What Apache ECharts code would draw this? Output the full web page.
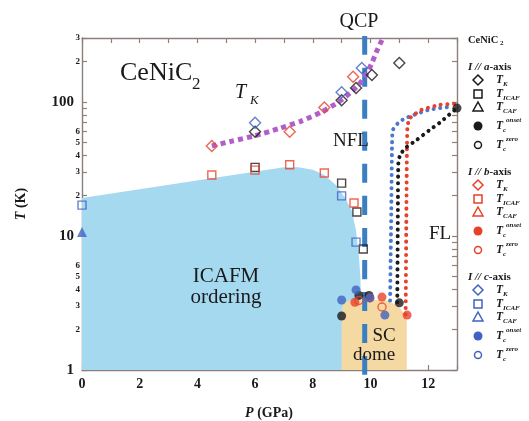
<!DOCTYPE html>
<html><head><meta charset="utf-8">
<script src="https://cdn.jsdelivr.net/npm/echarts@6/dist/echarts.min.js"></script>
<style>html,body{margin:0;padding:0;background:#fff}#c{width:529px;height:421px}</style>
</head><body><div id="c"></div>
<script>
// ---------- data ----------
const xLabelValues = [0, 2, 4, 6, 8, 10, 12];
const yLabelValues = [1, 2, 3, 4, 5, 6, 10, 20, 30, 40, 50, 60, 100, 200, 300];
const yTickValues = [1, 2, 3, 4, 5, 6, 7, 8, 9, 10, 20, 30, 40, 50, 60, 70, 80, 90, 100, 200, 300];

// ICAFM ordering region boundary (P in GPa, T in K)
const icafmP = [0, 0, 7.0, 7.5, 8.0, 8.4, 8.8, 9.1, 9.35, 9.5, 9.6, 9.65, 9.72];
const icafmT = [1, 19.2, 32.5, 32.6, 31.2, 28.5, 24, 19.5, 15.5, 11, 7, 5, 1];
// SC dome boundary
const domeP = [9.0, 9.0, 9.05, 9.12, 9.3, 10.3, 10.6, 10.85, 11.05, 11.2, 11.26, 11.26];
const domeT = [1, 2.85, 3.05, 3.18, 3.33, 3.33, 3.28, 3.1, 2.85, 2.55, 2.3, 1];
// QCP line
const qcpP = [9.8, 9.8];
const qcpT = [311, 0.92];
// T_K guide (purple dotted)
const tkLineP = [4.5, 5.2, 6.0, 6.8, 7.6, 8.3, 8.9, 9.3, 9.6, 9.85, 10.05, 10.2, 10.4];
const tkLineT = [47, 51, 56, 63, 72, 84, 100, 117, 135, 160, 195, 235, 290];
// Tc guides
const tcBlueP = [10.68, 10.72, 10.75, 10.78, 11.0, 11.3, 12.0, 12.75];
const tcBlueT = [3.3, 15, 50, 62, 71, 77, 87, 92];
const tcRedP = [11.22, 11.25, 11.28, 11.35, 11.5, 11.75, 12.4, 12.95];
const tcRedT = [2.6, 20, 65, 75, 80, 87, 95, 97];
const tcBlackP = [10.93, 10.95, 10.97, 11.05, 11.25, 11.6, 12.06, 12.4, 13.0];
const tcBlackT = [3.2, 15, 36, 41, 46, 52, 62, 70, 90];

// markers: a-axis (black), b-axis (red), c-axis (blue)
const aTK_P = [6.0, 9.0, 9.5, 10.05, 11.0];
const aTK_T = [60, 103, 127, 159, 195];
const bTK_P = [4.5, 7.2, 8.4, 9.4];
const bTK_T = [47, 60, 91, 154];
const cTK_P = [6.0, 9.0, 9.7];
const cTK_T = [70, 118, 179];

const aICAF_P = [6.0, 9.0, 9.53, 9.75];
const aICAF_T = [32.5, 24.8, 15.1, 8.0];
const bICAF_P = [4.5, 6.0, 7.2, 8.4, 9.43];
const bICAF_T = [28.5, 31, 34, 29.5, 17.6];
const cICAF_P = [0, 9.0, 9.5];
const cICAF_T = [17, 19.9, 9.0];

const cCAF_P = [0];
const cCAF_T = [10.7];

const aOnset_P = [9.0, 9.6, 9.95, 11.0, 13.0];
const aOnset_T = [2.53, 3.6, 3.6, 3.17, 90];
const bOnset_P = [9.46, 9.98, 10.4, 11.27];
const bOnset_T = [3.2, 3.45, 3.5, 2.57];
const cOnset_P = [9.0, 9.5, 9.98, 10.5];
const cOnset_T = [3.33, 3.96, 3.45, 2.57];

const bZero_P = [9.6, 10.4];
const bZero_T = [3.3, 2.95];

// ---------- styling ----------
const SERIF = '"Liberation Serif", "DejaVu Serif", serif';
const AX = '#8b817c';
const BLACK = '#1a1a1a', RED = '#e8412b', BLUE = '#4063bf';
const pts = (P, T) => P.map((p, i) => [p, T[i]]);

function polySeries(P, T, color, z) {
  return {
    type: 'custom', z, silent: true, clip: true,
    data: [[P[0], T[0]]],
    renderItem: (params, api) => ({
      type: 'polygon',
      shape: { points: P.map((p, i) => api.coord([p, T[i]])) },
      style: { fill: color }
    })
  };
}
function dotLine(P, T, color, width, dash, cap, z) {
  return {
    type: 'line', data: pts(P, T), symbol: 'none', smooth: 0.2, z, silent: true,
    clip: false,
    lineStyle: { color, width, type: dash, cap }
  };
}
function scat(P, T, symbol, size, color, filled, z) {
  return {
    type: 'scatter', data: pts(P, T), symbol, symbolSize: size, z: z || 10, silent: true,
    itemStyle: filled ? { color, borderWidth: 0 } : { color: 'rgba(0,0,0,0)', borderColor: color, borderWidth: 1.4 }
  };
}

// ---------- graphics (text labels + legend) ----------
const g = [];
function txt(x, y, text, size, o) {
  o = o || {};
  g.push({
    type: 'text', x, y, rotation: o.rotation || 0, z: 100,
    style: Object.assign({
      text, fontFamily: SERIF, fontSize: size, fontStyle: o.italic ? 'italic' : 'normal',
      fontWeight: o.bold ? 'bold' : 'normal', fill: o.color || '#1a1a1a',
      align: o.align || 'left', verticalAlign: 'middle'
    }, o.rich ? { rich: o.rich } : {})
  });
}
// in-plot labels
txt(120, 73, 'CeNiC', 26);
txt(192, 85, '2', 17);
txt(235, 93, 'T', 20, { italic: true });
txt(250, 101, 'K', 13, { italic: true });
txt(359, 22, 'QCP', 20, { align: 'center' });
txt(333, 141, 'NFL', 19);
txt(429, 234, 'FL', 19);
txt(226, 276, 'ICAFM', 21, { align: 'center' });
txt(226, 297, 'ordering', 21, { align: 'center' });
txt(384, 336, 'SC', 19, { align: 'center' });
txt(374, 355, 'dome', 19, { align: 'center' });
// axis titles
txt(269, 413, '{i|P} (GPa)', 14, { bold: true, align: 'center',
  rich: { i: { fontStyle: 'italic', fontWeight: 'bold', fontFamily: SERIF, fontSize: 14 } } });
txt(21, 204, '{i|T} (K)', 14, { bold: true, align: 'center', rotation: Math.PI / 2,
  rich: { i: { fontStyle: 'italic', fontWeight: 'bold', fontFamily: SERIF, fontSize: 14 } } });

// legend
txt(468, 40, 'CeNiC', 10.5, { bold: true });
txt(500, 43, '2', 7, { bold: true });
const legendGroups = [['a', 67, BLACK], ['b', 172, RED], ['c', 277, BLUE]];
const legendRowOffsets = [13, 27, 40, 59, 78];
const legendSymbols = ['diamond', 'square', 'triangle', 'dot', 'circle'];
const legendSubs = ['K', 'ICAF', 'CAF', 'c', 'c'];
const legendSups = ['', '', '', 'onset', 'zero'];
function sym(kind, x, y, color) {
  const st = { fill: 'none', stroke: color, lineWidth: 1.5 };
  if (kind === 'diamond') return { type: 'polygon', z: 100, shape: { points: [[x, y - 5], [x + 5, y], [x, y + 5], [x - 5, y]] }, style: st };
  if (kind === 'square') return { type: 'rect', z: 100, shape: { x: x - 4, y: y - 4, width: 8, height: 8 }, style: st };
  if (kind === 'triangle') return { type: 'polygon', z: 100, shape: { points: [[x, y - 5], [x + 5, y + 4], [x - 5, y + 4]] }, style: st };
  if (kind === 'dot') return { type: 'circle', z: 100, shape: { cx: x, cy: y, r: 4.5 }, style: { fill: color } };
  return { type: 'circle', z: 100, shape: { cx: x, cy: y, r: 3.5 }, style: st };
}
legendGroups.forEach(([ax, y0, col]) => {
  txt(468, y0, '{i|I // ' + ax + '}{n|-axis}', 11, { bold: true,
    rich: { i: { fontStyle: 'italic', fontWeight: 'bold', fontFamily: SERIF, fontSize: 11 },
            n: { fontWeight: 'bold', fontFamily: SERIF, fontSize: 11 } } });
  legendRowOffsets.forEach((off, k) => {
    const y = y0 + off;
    g.push(sym(legendSymbols[k], 478, y, col));
    txt(496, y, 'T', 11.5, { italic: true, bold: true });
    txt(503, y + 4, legendSubs[k], 7, { italic: true, bold: true });
    if (legendSups[k]) txt(506, y - 6, legendSups[k], 7, { italic: true, bold: true });
  });
});

// ---------- chart ----------
const chart = echarts.init(document.getElementById('c'), null, { renderer: 'canvas' });
const xBase = {
  type: 'value', min: 0, max: 13, interval: 1,
  axisLine: { show: true, onZero: false, lineStyle: { color: AX, width: 1.4 } },
  axisTick: { show: true, inside: true, length: 5, lineStyle: { color: AX, width: 1.2 } },
  splitLine: { show: false }
};
const yBase = {
  type: 'log', logBase: 10, min: 1, max: 300,
  axisLine: { show: true, onZero: false, lineStyle: { color: AX, width: 1.4 } },
  axisTick: { show: true, inside: true, length: 5, customValues: yTickValues, lineStyle: { color: AX, width: 1.2 } },
  minorTick: { show: false },
  splitLine: { show: false }
};
const option = {
  animation: false,
  backgroundColor: '#fff',
  grid: { left: 82, right: 72, top: 38, bottom: 51, containLabel: false },
  xAxis: [
    Object.assign({}, xBase, { position: 'bottom',
      axisLabel: { show: true, customValues: xLabelValues, margin: 7, color: '#1a1a1a',
        fontFamily: SERIF, fontSize: 14, fontWeight: 'bold' } }),
    Object.assign({}, xBase, { position: 'top', axisLabel: { show: false } })
  ],
  yAxis: [
    Object.assign({}, yBase, { position: 'left',
      axisLabel: { show: true, customValues: yLabelValues, margin: 2, color: '#1a1a1a',
        formatter: (v) => {
          const d = Math.log10(v);
          if (Math.abs(d - Math.round(d)) < 1e-6) return '{big|' + Math.round(v) + '}';
          return '{sm|' + String(Math.round(v)).charAt(0) + '}';
        },
        rich: {
          big: { fontFamily: SERIF, fontSize: 15, fontWeight: 'bold', color: '#1a1a1a', padding: [0, 6, 0, 0] },
          sm: { fontFamily: SERIF, fontSize: 9, fontWeight: 'bold', color: '#1a1a1a' }
        } } }),
    Object.assign({}, yBase, { position: 'right', axisLabel: { show: false } })
  ],
  series: [
    polySeries(icafmP, icafmT, '#a5d9f0', 1),
    polySeries(domeP, domeT, '#f4d9a3', 2),
    dotLine(qcpP, qcpT, '#3b7fc2', 5, [19, 13], 'butt', 3),
    dotLine(tkLineP, tkLineT, '#b35ec8', 5, [5, 4], 'butt', 4),
    dotLine(tcBlueP, tcBlueT, '#4a78cc', 4, [0.1, 6.5], 'round', 4),
    dotLine(tcRedP, tcRedT, RED, 4, [0.1, 6.5], 'round', 4),
    dotLine(tcBlackP, tcBlackT, BLACK, 4, [0.1, 6.5], 'round', 4),
    scat(aTK_P, aTK_T, 'diamond', 11, BLACK),
    scat(bTK_P, bTK_T, 'diamond', 11, RED),
    scat(cTK_P, cTK_T, 'diamond', 11, BLUE),
    scat(aICAF_P, aICAF_T, 'rect', 8, BLACK),
    scat(bICAF_P, bICAF_T, 'rect', 8, RED),
    scat(cICAF_P, cICAF_T, 'rect', 8, BLUE),
    scat(cCAF_P, cCAF_T, 'triangle', 10, BLUE, true),
    scat(aOnset_P, aOnset_T, 'circle', 9, BLACK, true),
    scat(bOnset_P, bOnset_T, 'circle', 9, RED, true),
    scat(cOnset_P, cOnset_T, 'circle', 9, BLUE, true),
    scat(bZero_P, bZero_T, 'circle', 8, RED)
  ],
  graphic: g
};
chart.setOption(option);
</script>
</body></html>
